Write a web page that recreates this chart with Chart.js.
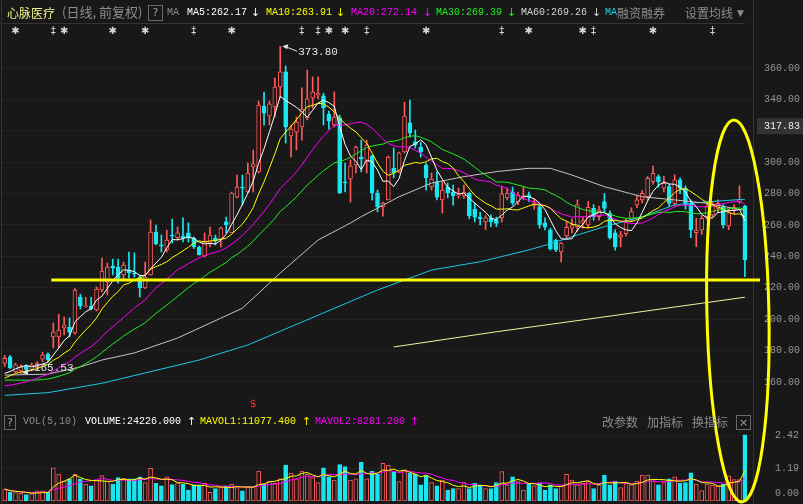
<!DOCTYPE html>
<html>
<head>
<meta charset="utf-8">
<script src="https://cdn.jsdelivr.net/npm/chart.js@4.4.1/dist/chart.umd.min.js"></script>
<style>
html, body { margin: 0; padding: 0; background: #181818; overflow: hidden; }
#wrap { position: relative; width: 803px; height: 504px; }
#kline { position: absolute; left: 0; top: 0; }
.t { position: absolute; white-space: pre; font: 10px "Liberation Mono", monospace; line-height: 12px; }
.cn { font: 12px "Noto Sans CJK SC", sans-serif; line-height: 14px; }
.ar { font: 11px "DejaVu Sans", sans-serif; line-height: 12px; }
.box { position: absolute; border: 1px solid #6a6a6a; color: #a0a0a0; font: 11px "DejaVu Sans", sans-serif; text-align: center; box-sizing: border-box; }
</style>
</head>
<body>
<div id="wrap">
  <canvas id="kline" width="803" height="504"></canvas>

  <div class="t cn" style="left:7px;top:6px;color:#f2f28c">心脉医疗</div>
  <div class="t cn" style="left:62px;top:5px;color:#8c8c8c;font-size:13px">(日线, 前复权)</div>
  <div class="box" style="left:148px;top:5px;width:15px;height:16px;line-height:14px">?</div>
  <div class="t" style="left:167px;top:7px;color:#8c8c8c">MA</div>
  <div class="t" style="left:187px;top:7px;color:#ffffff">MA5:262.17</div>
  <div class="t ar" style="left:251px;top:7px;color:#ffffff">↓</div>
  <div class="t" style="left:266px;top:7px;color:#ffff00">MA10:263.91</div>
  <div class="t ar" style="left:336px;top:7px;color:#ffff00">↓</div>
  <div class="t" style="left:351px;top:7px;color:#ff00ff">MA20:272.14</div>
  <div class="t ar" style="left:423px;top:7px;color:#ff00ff">↓</div>
  <div class="t" style="left:436px;top:7px;color:#22ee22">MA30:269.39</div>
  <div class="t ar" style="left:507px;top:7px;color:#22ee22">↓</div>
  <div class="t" style="left:521px;top:7px;color:#d4d4d4">MA60:269.26</div>
  <div class="t ar" style="left:592px;top:7px;color:#d4d4d4">↓</div>
  <div class="t" style="left:605px;top:7px;color:#19d2ee">MA</div>
  <div class="t cn" style="left:617px;top:6px;color:#8c8c8c">融资融券</div>
  <div class="t cn" style="left:685px;top:6px;color:#8c8c8c">设置均线</div>
  <div class="t ar" style="left:737px;top:7px;color:#8c8c8c;font-size:9px">▼</div>

  <div class="box" style="left:4px;top:415px;width:12px;height:15px;line-height:13px">?</div>
  <div class="t" style="left:23px;top:416px;color:#8c8c8c">VOL(5,10)</div>
  <div class="t" style="left:85px;top:416px;color:#ffffff">VOLUME:24226.000</div>
  <div class="t ar" style="left:187px;top:416px;color:#ffffff">↑</div>
  <div class="t" style="left:200px;top:416px;color:#ffff00">MAVOL1:11077.400</div>
  <div class="t ar" style="left:302px;top:416px;color:#ffff00">↑</div>
  <div class="t" style="left:315px;top:416px;color:#ff00ff">MAVOL2:8281.200</div>
  <div class="t ar" style="left:410px;top:416px;color:#ff00ff">↑</div>
  <div class="t cn" style="left:602px;top:415px;color:#8c8c8c">改参数</div>
  <div class="t cn" style="left:647px;top:415px;color:#8c8c8c">加指标</div>
  <div class="t cn" style="left:692px;top:415px;color:#8c8c8c">换指标</div>
  <div class="box" style="left:736px;top:415px;width:15px;height:15px;line-height:13px">×</div>
</div>

<script>
// daily candles, oldest first
const opens = [172,176,166.5,167,170,168,169,174.6,177.8,188.7,188.7,194.4,195,191.2,214.1,207.8,208.4,205.9,218.6,223.7,
  233.9,233.2,228.2,231.3,229.4,226.9,219.9,228.2,255.5,247.3,244.1,253.6,252,252.9,255,251.7,246,240.3,248.5,251.7,
  251,262,255,277.8,284.2,281,297,293.8,335.8,329.4,335.2,347.9,357.5,316.7,319.2,322.4,328.2,340.9,342.8,342.2,
  330.7,323.7,328.2,287.4,289.3,298.2,303.3,300.1,304,280.4,271.5,276,296.3,293.8,306.5,325,312.9,309.7,298.2,284.2,
  287.4,276,284.2,281,278.5,278.5,280.4,270,265,262,264.5,263,264.5,277.2,281,274.6,277.8,279.2,272.7,271.5,
  261.3,257,250.4,242.8,253,257.9,259,261.1,260,270.6,265.3,274.9,267.5,255,252.2,254.5,263.2,272.8,276,278,
  287.6,290.8,283.4,284.5,273.8,288.7,283.4,273.8,255.1,256.8,265.3,266.4,270.6,271.7,259.4,269.6,274.9,272.1];
const highs = [177,177,172,171,171,172,173,179,178.5,197.6,203.1,201.4,200.8,219.5,216,214,214,220.5,239,235.8,
  238.3,238.3,236.4,242.8,242.2,228.2,236.4,263.2,260,253.6,256.8,263.8,258.7,264.5,261.3,252.3,246.6,254.9,258.7,253.6,
  258.7,265,281,291.8,291.8,299.5,307.8,339,344.7,339,353.6,373.8,361.3,323.7,328.8,347.3,358.7,354.3,354.3,344,
  332.6,344.7,330,299.5,301.4,310.3,314.1,314.1,304.6,282.3,274.6,304,309,306.5,338.3,339.6,320.5,312.9,299.5,293.1,
  293.8,287.4,286.8,285.5,283.5,285.5,281,274,268,266,266.5,265,284.2,283.5,284.2,281,284.2,281,276.5,273.5,
  264.5,258,251,249,262,264,276,265,275,273,272,280,269,257,256,264,271,279,282,291,
  297.5,292,291,286,292,290,285,276,264.3,266,274,275,276,273,270,273,284.9,272.5];
const lows = [170,168.5,166,165.53,166,167,168,173,173,181.7,181.7,190,188.7,190.5,206.5,207.5,205.9,205.2,217.3,215.4,
  228.2,223,225,226.2,226.9,214.1,219.5,228,247.3,242.8,242.8,248.5,250.4,249.2,249.2,245,240.9,239.6,246,247.3,
  246,255,255,277.2,272.7,280.4,281,293.1,323.7,323.7,328.8,340.9,312.2,303.3,307.8,314.1,326.9,334.5,340.3,323.7,
  321,322.4,280,281,274.6,293.1,293.8,293.1,276,268.3,265.7,276,290,293.1,305.9,316,309,303.3,282.3,282.3,
  276,267.6,277.2,272.7,277,277,264,262,260,257,259,259,261.9,276,272.7,273,276,275,270,258,
  256.8,244,243,236.4,251,255,256,258,258,263,263,268,251,244,246,253,262,271,274,276,
  286,284,281,272,272,280,270,252,246.2,254,263,265,268,258,257,267,273.8,227.1];
const closes = [175,169,171,169.5,168,171,172,177.2,174,191.8,193.1,196.3,191.8,218.6,208.4,208.4,206.5,219.2,230.7,233.2,
  232.6,226.2,234.5,229.4,228.8,219.9,226.9,255.5,247.9,246.7,250.4,252.9,255,251.7,251.7,246,241,249.2,253.6,249.8,
  258.1,260,280.4,284.2,283.5,293.1,298.9,336.4,331.3,337.1,347.9,357.5,322.4,321.1,325.6,333.9,340.3,344.7,344,334.5,
  326.2,328.8,280.4,286.8,297.6,309.7,302.1,311,280.4,271.5,274,303.3,293.1,305.9,329.4,318.6,311,306.5,290,289.3,
  277.8,282.3,280.4,278.5,279.2,281,266,265,264,264.5,262,261,279.8,280.4,274,279.2,278.5,277.8,274,260,
  258.7,245,244.1,248.5,258.5,260,272.8,262.8,271.3,265.3,269.6,270.6,252,246,253.7,262,268.5,276,280.2,289.8,
  292.9,287.6,286.6,273.8,288.7,283.4,272.8,256.8,256.8,264.3,271.7,272.8,273.8,260,267.9,271.3,276.4,237.7];
// closes before the first visible day, estimated from where the MA lines start
const priorCloses = [172,171,170,169,170,168,167,167,167,166,162,158,155,152,150,149,150,150,150,151,
  154,157,160,162,164.5,163,162.5,163,164];
// volume, in 10k lots
const volumes = [0.44,0.32,0.31,0.28,0.24,0.27,0.37,0.37,0.32,1.22,0.99,0.73,0.81,0.98,0.81,0.61,0.56,0.77,0.93,0.73,
  0.62,0.86,0.83,0.81,0.81,0.89,0.68,1.2,0.65,0.56,0.89,0.6,0.67,0.61,0.4,0.59,0.59,0.65,0.32,0.46,
  0.53,0.56,0.61,0.49,0.37,0.53,0.53,1.1,0.61,0.73,0.65,0.81,1.32,1.02,0.81,1.1,0.98,0.86,0.68,1.22,
  0.89,0.77,1.34,1.26,0.77,0.81,1.42,0.81,1.1,0.98,1.38,1.32,1.08,0.71,1.14,1.02,0.98,0.59,0.95,0.68,
  0.56,0.77,0.4,0.46,0.46,0.68,0.46,0.65,0.59,0.46,0.46,0.68,1.08,0.59,0.89,0.71,0.4,0.61,0.56,0.65,
  0.4,0.59,0.46,0.56,0.98,0.77,0.59,0.65,0.73,0.46,0.59,0.95,0.59,0.73,0.49,0.65,0.59,0.73,0.95,0.95,
  0.73,0.59,0.68,0.81,0.89,0.65,0.68,1.03,0.62,0.38,0.62,0.58,0.54,0.61,0.92,0.79,0.79,2.4226];
// long averages at a few days
const ma60Day = [0,8,14,18,24,32,44,51,58,64,66,73,79,85,91,97,101,105,111,118,124,130,137];
const ma60Val = [164.4,165,169.6,174,178.5,188,207,229.4,250.4,261.3,265.3,278,286.7,290.8,294,296.1,296.1,291.8,284.4,278,276,273.8,269.3];
const ma120Day = [0,8,18,27,36,45,59,69,79,88,97,101,105,111,118,124,130,137];
const ma120Val = [151.5,153.2,159.2,166.6,174,183.6,204,218.6,231.3,236.6,244.1,248,252.6,258.9,265.3,272.8,274.8,276.4];
const ma250Day = [72,91,110,137];
const ma250Val = [182.3,192,201,214];

const priceTicks = [160,180,200,220,240,260,280,300,320,340,360];
const volTicks = [0, 1.19, 2.42];
const markPrice = 317.83;
const supportPrice = 225.0, supportFrom = 9;
const eventDays = [2,9,11,20,26,35,42,55,58,60,63,67,78,92,97,107,109,120,131];
const eventKind = 'sdsssdsddssdsdssdsd';
const signalDay = 46;

const BG = '#181818', RED = '#ff5a5a', CYAN = '#19e6f0';
const up = closes.map((c, i) => c >= opens[i]);
const days = closes.map((_, i) => String(i + 1)).concat(['']);

function movingAvg(series, n, prior) {
  const all = prior.concat(series), off = prior.length;
  return series.map((_, i) => {
    const end = off + i + 1, start = Math.max(0, end - n);
    let s = 0;
    for (let k = start; k < end; k++) s += all[k];
    return s / (end - start);
  });
}
function sparse(dayList, vals) {
  const out = closes.map(() => null);
  dayList.forEach((d, k) => { out[d] = vals[k]; });
  return out;
}
function maLine(data, color, axis) {
  return { type: 'line', data, yAxisID: axis || 'y', borderColor: color, borderWidth: 1,
    pointRadius: 0, tension: 0, spanGaps: true, order: 0 };
}
// keep tick labels from pushing the plot area in
function fixAxis(width) {
  return s => { s.width = width; s.paddingTop = 0; s.paddingBottom = 0; };
}

const overlay = {
  id: 'overlay',
  beforeDatasetsDraw(chart) {
    const { ctx, chartArea: a } = chart;
    ctx.save();
    ctx.strokeStyle = '#333333';
    ctx.lineWidth = 1;
    ctx.beginPath();
    ctx.moveTo(1.5, 0); ctx.lineTo(1.5, 504);
    ctx.moveTo(a.right + 0.5, 0); ctx.lineTo(a.right + 0.5, 504);
    ctx.moveTo(0, 23.5); ctx.lineTo(a.right - 8, 23.5);
    ctx.stroke();
    ctx.restore();
  },
  afterDatasetsDraw(chart) {
    const { ctx, chartArea: a, scales: { x, y, yv } } = chart;
    ctx.save();
    // event markers
    ctx.fillStyle = '#d6d6d6';
    ctx.font = '10px "DejaVu Sans"';
    ctx.textAlign = 'center';
    ctx.textBaseline = 'middle';
    eventDays.forEach((d, k) => {
      ctx.fillText(eventKind[k] === 's' ? '✱' : '‡', x.getPixelForValue(d), 31);
    });
    // high / low labels
    const hi = highs.indexOf(Math.max(...highs)), lo = lows.indexOf(Math.min(...lows));
    ctx.strokeStyle = '#e6e6e6';
    ctx.fillStyle = '#e6e6e6';
    ctx.lineWidth = 1;
    const hx = x.getPixelForValue(hi) + 2, hy = y.getPixelForValue(highs[hi]);
    ctx.beginPath(); ctx.moveTo(hx, hy); ctx.lineTo(hx + 6, hy - 2); ctx.lineTo(hx + 5, hy + 3); ctx.closePath(); ctx.fill();
    ctx.beginPath(); ctx.moveTo(hx + 5, hy + 1); ctx.lineTo(hx + 15, hy + 5); ctx.stroke();
    ctx.font = '11px "Liberation Mono"';
    ctx.textAlign = 'left';
    ctx.fillText(highs[hi].toFixed(2), hx + 16, hy + 6);
    const lx = x.getPixelForValue(lo) + 1, ly = y.getPixelForValue(lows[lo]);
    ctx.beginPath(); ctx.moveTo(lx, ly); ctx.lineTo(lx + 6, ly - 4); ctx.lineTo(lx + 6, ly + 1); ctx.closePath(); ctx.fill();
    ctx.beginPath(); ctx.moveTo(lx + 5, ly - 2); ctx.lineTo(lx + 12, ly - 4); ctx.stroke();
    ctx.fillText(lows[lo].toFixed(2), lx + 12, ly - 5);
    // support line
    ctx.strokeStyle = '#ffff00';
    ctx.lineWidth = 3;
    const sy = Math.round(y.getPixelForValue(supportPrice));
    ctx.beginPath();
    ctx.moveTo(x.getPixelForValue(supportFrom) - 2, sy);
    ctx.lineTo(a.right + 7, sy);
    ctx.stroke();
    // circled region
    ctx.beginPath();
    ctx.ellipse(x.getPixelForValue(135.7), y.getPixelForValue(205.2), 31, 191, -0.021, 0, Math.PI * 2);
    ctx.stroke();
    // signal
    ctx.fillStyle = '#ff2a2a';
    ctx.font = '11px "DejaVu Sans"';
    ctx.textAlign = 'center';
    ctx.fillText('$', x.getPixelForValue(signalDay), 404);
    // price mark on axis
    const my = y.getPixelForValue(markPrice) - 8;
    ctx.fillStyle = '#333333';
    ctx.fillRect(a.right + 4, my - 8, 803 - a.right - 4, 16);
    ctx.fillStyle = '#eeeeee';
    ctx.font = '10px "Liberation Mono"';
    ctx.textAlign = 'left';
    ctx.fillText(markPrice.toFixed(2), a.right + 11, my);
    // volume axis labels (zero label lifted to stay on screen)
    ctx.fillStyle = '#959595';
    volTicks.forEach(v => {
      ctx.fillText(v.toFixed(2), a.right + 22, yv.getPixelForValue(v) - (v === 0 ? 8 : 0));
    });
    ctx.restore();
  }
};

new Chart(document.getElementById('kline'), {
  data: {
    labels: days,
    datasets: [
      { type: 'bar', data: highs.map((h, i) => [lows[i], h]), yAxisID: 'y', barThickness: 1, grouped: false,
        backgroundColor: up.map(u => u ? RED : CYAN), order: 3 },
      { type: 'bar', data: opens.map((o, i) => [o, closes[i]]), yAxisID: 'y', barThickness: 4, grouped: false,
        backgroundColor: up.map(u => u ? BG : CYAN), borderColor: up.map(u => u ? RED : CYAN),
        borderWidth: 1, borderSkipped: false, minBarLength: 1, order: 2 },
      maLine(movingAvg(closes, 5, priorCloses), '#ffffff'),
      maLine(movingAvg(closes, 10, priorCloses), '#ffff00'),
      maLine(movingAvg(closes, 20, priorCloses), '#ff00ff'),
      maLine(movingAvg(closes, 30, priorCloses), '#22ee22'),
      maLine(sparse(ma60Day, ma60Val), '#c4c4c4'),
      maLine(sparse(ma120Day, ma120Val), '#1ec8e6'),
      maLine(sparse(ma250Day, ma250Val), '#f5f0a0'),
      { type: 'bar', data: volumes, yAxisID: 'yv', barThickness: 4, grouped: false,
        backgroundColor: up.map(u => u ? BG : CYAN), borderColor: up.map(u => u ? RED : CYAN),
        borderWidth: 1, borderSkipped: false, order: 2 },
      maLine(movingAvg(volumes, 5, []), '#ffff00', 'yv'),
      maLine(movingAvg(volumes, 10, []), '#ff00ff', 'yv')
    ]
  },
  options: {
    responsive: false,
    animation: false,
    events: [],
    layout: { padding: { top: 23, bottom: 3, left: 2, right: 0 } },
    plugins: { legend: { display: false }, tooltip: { enabled: false } },
    scales: {
      x: { display: false, offset: true },
      y: {
        position: 'right',
        min: 84.2, max: 388.66,
        afterBuildTicks: s => { s.ticks = priceTicks.map(v => ({ value: v })); },
        afterFit: fixAxis(50),
        grid: { color: '#3a3a3a', drawTicks: false },
        border: { display: false, dash: [1, 3] },
        ticks: { color: '#959595', padding: 11, font: { family: 'Liberation Mono', size: 10 },
          callback: v => v.toFixed(2) }
      },
      yv: {
        position: 'right',
        min: 0, max: 17.53,
        afterBuildTicks: s => { s.ticks = volTicks.slice(1).map(v => ({ value: v })); },
        afterFit: fixAxis(0),
        grid: { color: '#3a3a3a', drawTicks: false },
        border: { display: false, dash: [1, 3] },
        ticks: { display: false }
      }
    }
  },
  plugins: [overlay]
});
</script>
</body>
</html>
